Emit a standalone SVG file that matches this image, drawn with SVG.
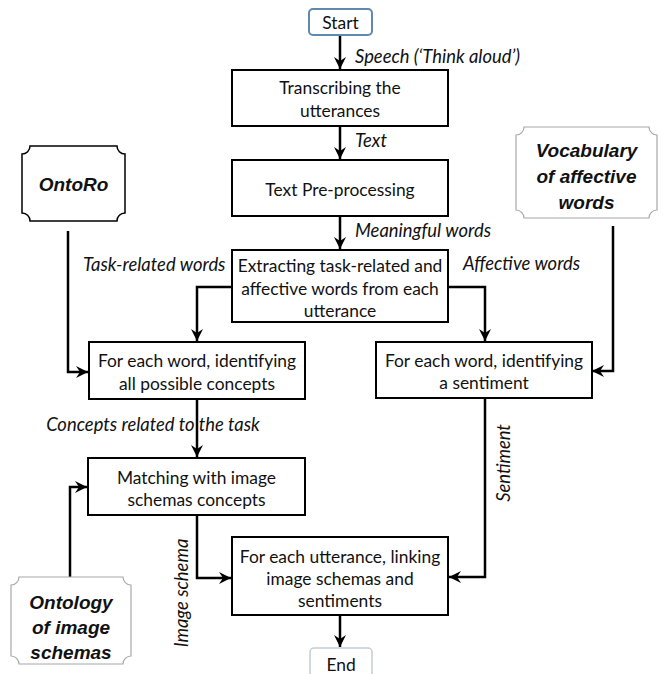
<svg xmlns="http://www.w3.org/2000/svg" width="664" height="674" viewBox="0 0 664 674">
<style>
.box{fill:#fff;stroke:#000;stroke-width:2}
.t{font-family:Lato,"Liberation Sans",sans-serif;font-size:17.4px;fill:#111;text-anchor:middle;dominant-baseline:central}
.lbl{font-family:Lato,"Liberation Sans",sans-serif;font-size:18.4px;font-style:italic;fill:#111;dominant-baseline:central}
.bi{font-family:"Liberation Sans",Arial,sans-serif;font-size:19px;font-weight:bold;font-style:italic;fill:#111;text-anchor:middle;dominant-baseline:central}
.c{fill:none;stroke:#000;stroke-width:2.5;marker-end:url(#ah)}
</style>
<defs>
<marker id="ah" markerUnits="userSpaceOnUse" markerWidth="14" markerHeight="14" refX="12" refY="7" orient="auto">
<path d="M0,1 L12,7 L0,13 L4,7 Z" fill="#000"/>
</marker>
</defs>
<rect width="664" height="674" fill="#fff"/>
<g id="connectors">
<path class="c" d="M340,35 V69"/>
<path class="c" d="M340,126 V159"/>
<path class="c" d="M340,216 V249"/>
<path class="c" d="M232,287 H197 V341"/>
<path class="c" d="M448,287 H485 V341"/>
<path class="c" d="M68,231 V372 H88"/>
<path class="c" d="M613,226 V371 H592"/>
<path class="c" d="M197,399 V457"/>
<path class="c" d="M70,577 V487 H87"/>
<path class="c" d="M197,515 V578 H231"/>
<path class="c" d="M485,398 V577 H449"/>
<path class="c" d="M340,615 V647"/>
</g>
<g id="labels">
<text class="lbl" x="355" y="56">Speech (‘Think aloud’)</text>
<text class="lbl" x="355" y="140">Text</text>
<text class="lbl" x="355" y="230">Meaningful words</text>
<text class="lbl" x="83" y="264">Task-related words</text>
<text class="lbl" x="463" y="263">Affective words</text>
<text class="lbl" x="153" y="424" text-anchor="middle">Concepts related to the task</text>
<text class="lbl" transform="translate(181,593) rotate(-90)" text-anchor="middle">Image schema</text>
<text class="lbl" transform="translate(503,463) rotate(-90)" text-anchor="middle">Sentiment</text>
</g>
<g id="start">
<rect x="309" y="9" width="63" height="26" rx="4" fill="#fff" stroke="#5f8aae" stroke-width="2"/>
<text class="t" x="340.5" y="22">Start</text>
</g>
<g id="transcribing">
<rect class="box" x="232" y="70" width="216" height="56"/>
<text class="t" x="340" y="87">Transcribing the</text>
<text class="t" x="340" y="110">utterances</text>
</g>
<g id="preprocessing">
<rect class="box" x="232" y="160" width="216" height="56"/>
<text class="t" x="340" y="189">Text Pre-processing</text>
</g>
<g id="extracting">
<rect class="box" x="232" y="250" width="216" height="72"/>
<text class="t" x="340" y="265">Extracting task-related and</text>
<text class="t" x="340" y="288">affective words from each</text>
<text class="t" x="340" y="310">utterance</text>
</g>
<g id="concepts">
<rect class="box" x="89" y="342" width="216" height="57"/>
<text class="t" x="197" y="360">For each word, identifying</text>
<text class="t" x="197" y="383">all possible concepts</text>
</g>
<g id="sentiment">
<rect class="box" x="376" y="342" width="216" height="56"/>
<text class="t" x="484" y="360">For each word, identifying</text>
<text class="t" x="484" y="382">a sentiment</text>
</g>
<g id="matching">
<rect class="box" x="88" y="458" width="217" height="57"/>
<text class="t" x="196.5" y="477">Matching with image</text>
<text class="t" x="196.5" y="499">schemas concepts</text>
</g>
<g id="linking">
<rect class="box" x="232" y="537" width="216" height="78"/>
<text class="t" x="340" y="556">For each utterance, linking</text>
<text class="t" x="340" y="578">image schemas and</text>
<text class="t" x="340" y="600">sentiments</text>
</g>
<g id="end">
<rect x="310" y="648" width="62" height="36" rx="4" fill="#fff" stroke="#c5ccd3" stroke-width="1.5"/>
<text class="t" x="341" y="664">End</text>
</g>
<g id="ontoro">
<path d="M30,146 H117 A8,8 0 0 0 125,154 V213 A8,8 0 0 0 117,221 H30 A8,8 0 0 0 22,213 V154 A8,8 0 0 0 30,146 Z" fill="#fff" stroke="#000" stroke-width="1.5"/>
<text class="bi" x="73.5" y="184">OntoRo</text>
</g>
<g id="vocabulary">
<path d="M524,127 H649 A8,8 0 0 0 657,135 V210 A8,8 0 0 0 649,218 H524 A8,8 0 0 0 516,210 V135 A8,8 0 0 0 524,127 Z" fill="#fff" stroke="#a8a8a8" stroke-width="1.2"/>
<text class="bi" x="586.5" y="150">Vocabulary</text>
<text class="bi" x="586.5" y="176">of affective</text>
<text class="bi" x="586.5" y="202">words</text>
</g>
<g id="ontology">
<path d="M19,577 H123 A8,8 0 0 0 131,585 V656 A8,8 0 0 0 123,664 H19 A8,8 0 0 0 11,656 V585 A8,8 0 0 0 19,577 Z" fill="#fff" stroke="#a8a8a8" stroke-width="1.2"/>
<text class="bi" x="71" y="602">Ontology</text>
<text class="bi" x="71" y="627">of image</text>
<text class="bi" x="71" y="652">schemas</text>
</g>
</svg>
